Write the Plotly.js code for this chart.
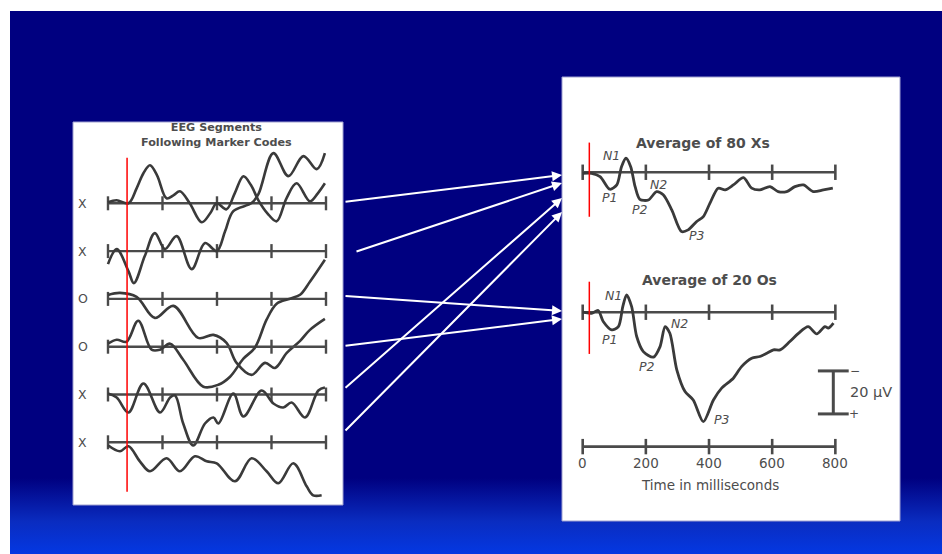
<!DOCTYPE html>
<html><head><meta charset="utf-8">
<script src="https://cdn.plot.ly/plotly-3.0.1.min.js"></script>
<style>
html,body{margin:0;padding:0;background:#ffffff;overflow:hidden;}
#bg{position:absolute;left:10px;top:11px;width:932px;height:543px;
 background:linear-gradient(to bottom,#000080 0%,#000080 86%,#0a2cc0 94%,#0438e2 100%);}
#chart{position:absolute;left:0;top:0;width:942px;height:554px;}
</style></head>
<body><div id="bg"></div><div id="chart"></div>
<script>
// ---------- Left panel: single EEG segments (time in ms, amplitude in arbitrary units, up = positive)
const segLabels = ['X','X','O','O','X','X'];
const segTicks = [0,200,400,600,800];
const seg1T = [0,32,75,105,130,154,180,215,240,264,300,344,375,399,435,465,497,525,552,585,619,655,692,741,770,796];
const seg1A = [1,3,0,15,30,38,28,5,8,12,0,-19,-10,0,-6,10,27,18,3,-10,-18,5,20,2,10,20];
const seg2T = [0,32,75,95,135,172,209,252,307,356,399,430,460,527,552,607,662,717,766,796];
const seg2A = [-13,2,-20,-32,-5,18,2,15,-18,8,0,20,40,48,57,98,75,95,82,98];
const seg3T = [0,44,105,172,240,331,387,435,472,527,576,613,656,705,741,796];
const seg3A = [4,6,2,-19,-7,-39,-36,-44,-64,-76,-64,-69,-54,-42,-31,-20];
const seg4T = [0,32,68,111,160,191,228,276,350,405,448,497,539,582,619,668,705,741,796];
const seg4A = [3,7,5,26,-3,-3,3,-13,-40,-38,-30,-12,-1,27,43,48,52,65,87];
const seg5T = [0,32,75,130,191,228,246,276,313,356,387,405,460,497,564,607,643,674,723,772,796];
const seg5A = [1,-3,-18,11,-18,-3,-1,-29,-51,-29,-23,-29,1,-22,4,-9,-13,-8,-23,4,7];
const seg6T = [0,44,75,117,154,215,264,319,362,399,466,527,582,625,680,729,753,784];
const seg6A = [-3,-9,-4,-19,-29,-16,-29,-14,-19,-21,-39,-16,-29,-41,-21,-44,-53,-53];
const segMarkerMs = 70;

// ---------- Right panel: averaged ERPs (time in ms, voltage in µV, negative up)
const avgXT = [0,28,55,86,108,123,137,152,166,181,208,234,255,282,313,334,361,382,403,429,451,477,509,535,561,593,619,646,672,699,730,762,792];
const avgXV = [0.5,0.5,2,7.9,5.9,-2.6,-6.5,-2.6,6.7,12.6,12.9,9.0,10.5,17.5,27.6,26.8,22.9,20.6,14.4,7.4,8.2,5.9,2.5,7.4,8.2,6.7,9.0,9.0,6.7,5.9,9.0,8.2,7.4];
const avgOT = [0,28,49,65,92,113,127,139,155,171,192,224,245,261,276,298,324,350,382,414,440,477,503,535,561,583,604,625,656,683,714,741,767,778,794];
const avgOV = [0,0.5,-0.8,4.3,8.2,6.7,-2.6,-8.1,-2.6,11.3,18.3,20.9,16.0,6.7,9.8,26.8,36.9,40.8,50.9,40.8,35.3,30.7,25.3,21.4,20.6,19.1,17.5,17.5,13.6,9.8,6.7,10.1,6.7,7.4,5.1];
const compNames = ['N1','P1','N2','P2','P3'];
const compXT = [92,86,239,181,361];
const compXV = [-8.0,11.6,5.9,17.5,29.2];
const compOT = [97,86,308,205,440];
const compOV = [-8.0,12.9,5.1,25.3,50.1];
const timeTicks = [0,200,400,600,800];
const scaleBarUV = 20;
const stimMs = 21;

// ---------- geometry (layout only)
const W = 942, H = 554;
const ROW = 47.8;            // spacing between segment rows (amplitude units)
const OFF_O = 65.1;          // vertical offset of second average (µV)
const OFF_AXIS = 127.6;      // offset of time axis (µV)
const SB_T = 793.5, SB_TOP = 92.4;
const px = v => v / W, py = v => 1 - v / H;

const dark = '#3a3a3a', axisCol = '#4a4a4a', txt = '#4d4d4d';
const FONT = 'DejaVu Sans, Arial, sans-serif';

const segTs = [seg1T,seg2T,seg3T,seg4T,seg5T,seg6T];
const segAs = [seg1A,seg2A,seg3A,seg4A,seg5A,seg6A];

const traces = [];
function baseline(xa, ya, off, msize, w){
  traces.push({x: segTicks, y: segTicks.map(()=>off), xaxis: xa, yaxis: ya,
    mode:'lines+markers', line:{color:axisCol,width:w},
    marker:{symbol:'line-ns-open', size:msize, line:{color:axisCol,width:w}},
    hoverinfo:'skip', showlegend:false});
}
segTs.forEach((t,i)=>{
  baseline('x','y',-i*ROW,10,2.4);
  traces.push({x:t, y:segAs[i].map(v=>v - i*ROW), xaxis:'x', yaxis:'y',
    mode:'lines', line:{color:dark,width:2.6,shape:'spline',smoothing:1},
    hoverinfo:'skip', showlegend:false});
});
baseline('x2','y2',0,11,2.6);
baseline('x2','y2',OFF_O,11,2.6);
baseline('x2','y2',OFF_AXIS,11,2.6);
traces.push({x:avgXT, y:avgXV, xaxis:'x2', yaxis:'y2', mode:'lines',
  line:{color:dark,width:2.8,shape:'spline',smoothing:0.8}, hoverinfo:'skip', showlegend:false});
traces.push({x:avgOT, y:avgOV.map(v=>v+OFF_O), xaxis:'x2', yaxis:'y2', mode:'lines',
  line:{color:dark,width:2.8,shape:'spline',smoothing:0.8}, hoverinfo:'skip', showlegend:false});
traces.push({x:[SB_T,SB_T], y:[SB_TOP,SB_TOP+scaleBarUV], xaxis:'x2', yaxis:'y2', mode:'lines+markers',
  line:{color:axisCol,width:3}, marker:{symbol:'line-ew-open',size:22,line:{color:axisCol,width:3}},
  hoverinfo:'skip', showlegend:false});

const shapes = [
  {type:'rect', xref:'paper', yref:'paper', x0:px(73), x1:px(343), y0:py(505), y1:py(122),
   fillcolor:'#ffffff', line:{color:'#9fa0d0',width:1}, layer:'below'},
  {type:'rect', xref:'paper', yref:'paper', x0:px(562), x1:px(900), y0:py(521), y1:py(77),
   fillcolor:'#ffffff', line:{color:'#9fa0d0',width:1}, layer:'below'},
  {type:'line', xref:'x', yref:'y', x0:segMarkerMs, x1:segMarkerMs, y0:45.6, y1:-288.4,
   line:{color:'#ff0000',width:1.5}},
  {type:'line', xref:'x2', yref:'y2', x0:stimMs, x1:stimMs, y0:-13.8, y1:20.7,
   line:{color:'#ff0000',width:1.5}},
  {type:'line', xref:'x2', yref:'y2', x0:stimMs, x1:stimMs, y0:OFF_O-14.2, y1:OFF_O+19.4,
   line:{color:'#ff0000',width:1.5}}
];

const ann = [];
function t(text, xref, yref, x, y, size, opts){
  ann.push(Object.assign({text:text, xref:xref, yref:yref, x:x, y:y, showarrow:false,
    font:{family:FONT,size:size,color:txt}, xanchor:'center', yanchor:'middle'}, opts||{}));
}
t('<b>EEG Segments</b><br><b>Following Marker Codes</b>','x','y',399,68.8,11.2);
segLabels.forEach((s,i)=>t(s,'x','y',-92.9,-i*ROW,12.5));
t('<b>Average of 80 Xs</b>','x2','y2',381,-13.5,14);
t('<b>Average of 20 Os</b>','x2','y2',403,OFF_O-15.0,14);
compNames.forEach((n,i)=>{
  t('<i>'+n+'</i>','x2','y2',compXT[i],compXV[i],12.5);
  t('<i>'+n+'</i>','x2','y2',compOT[i],compOV[i]+OFF_O,12.5);
});
timeTicks.forEach(v=>t(String(v),'x2','y2',v,OFF_AXIS+7.7,13.5));
t('Time in milliseconds','x2','y2',403,145.5,13.5);
t('20 µV','x2','y2',840,102,14.5,{xanchor:'left'});
t('−','x2','y2',862,SB_TOP,12);
t('+','x2','y2',860,SB_TOP+scaleBarUV,12);

// connector arrows (tail px -> head px)
const arrows = [[344,202,562,175],[355,252,562,183],[344,296,562,311],
                [344,346,562,319],[344,389,562,198],[344,432,562,212]];
arrows.forEach(a=>{
  ann.push({x:px(a[2]), y:py(a[3]), xref:'paper', yref:'paper', text:'',
    ax:a[0]-a[2], ay:a[1]-a[3], axref:'pixel', ayref:'pixel',
    showarrow:true, arrowhead:2, arrowsize:1, arrowwidth:2, arrowcolor:'#ffffff', standoff:0});
});

const hid = {visible:false, showgrid:false, zeroline:false, fixedrange:true};
const layout = {
  width:W, height:H, margin:{l:0,r:0,t:0,b:0},
  paper_bgcolor:'rgba(0,0,0,0)', plot_bgcolor:'rgba(0,0,0,0)',
  showlegend:false,
  xaxis:Object.assign({domain:[px(73),px(343)], range:[-128.4,862.4], anchor:'y'},hid),
  yaxis:Object.assign({domain:[py(505),py(122)], range:[-301.7,81.3], anchor:'x'},hid),
  xaxis2:Object.assign({domain:[px(562),px(900)], range:[-65.5,1004.7], anchor:'y2'},hid),
  yaxis2:Object.assign({domain:[py(521),py(77)], range:[162.2,-44.3], anchor:'x2'},hid),
  shapes:shapes, annotations:ann
};
Plotly.newPlot('chart', traces, layout, {displayModeBar:false, staticPlot:true});
</script></body></html>
